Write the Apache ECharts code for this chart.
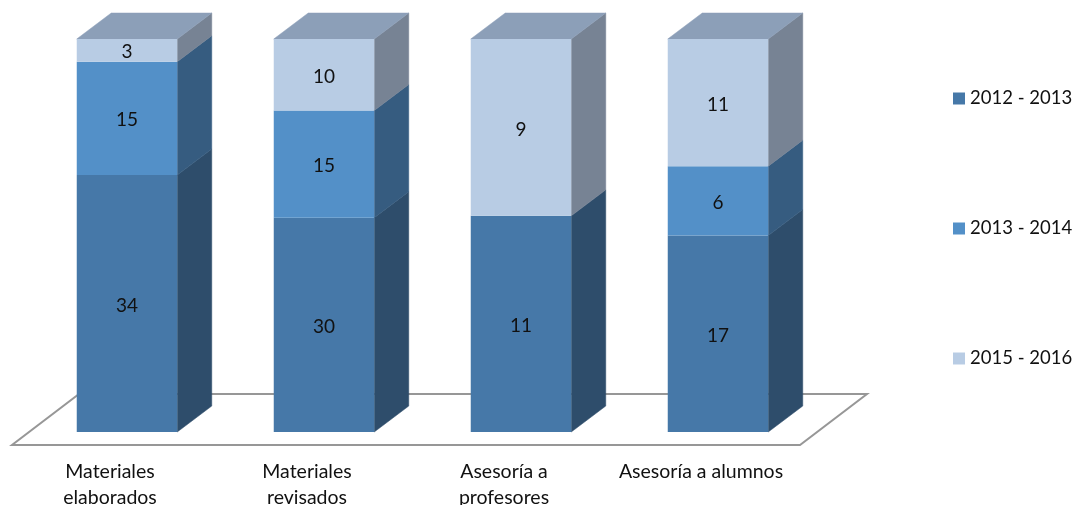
<!DOCTYPE html>
<html><head><meta charset="utf-8">
<style>html,body{margin:0;padding:0;background:#fff}#c{width:1075px;height:505px}</style>
<script src="https://cdn.jsdelivr.net/npm/echarts@6/dist/echarts.min.js"></script>
</head><body><div id="c"></div>
<script>
const categories = ['Materiales\nelaborados','Materiales\nrevisados','Asesoría a\nprofesores','Asesoría a alumnos'];
const seriesNames = ['2012 - 2013','2013 - 2014','2015 - 2016'];
const s2012 = [34,30,11,17];
const s2013 = [15,15,null,6];
const s2015 = [3,10,9,11];
const FONT = 'Lato';
const frontColors = ['#4678a8','#5390c8','#b8cce4'];
const sideColors = ['#2e4d6b','#365c80','#778394'];
const topColor = '#8c9fb8';
const DX = 34.5, DY = -26, BW = 100.5;
const all = [s2012,s2013,s2015];
const totals = categories.map((_,i)=>all.reduce((a,s)=>a+(s[i]||0),0));
function segData(k){
  return categories.map((_,i)=>{
    let start=0; for(let j=0;j<k;j++) start+=(all[j][i]||0);
    const v=all[k][i];
    return [i,start/totals[i]*100,(start+(v||0))/totals[i]*100,v==null?0:v,(start+(v||0))===totals[i]?1:0];
  });
}
function poly(pts,fill){return {type:'polygon',shape:{points:pts},style:{fill:fill,stroke:fill,lineWidth:0.5}};}
function makeSeries(k){
  return {name:seriesNames[k],type:'custom',coordinateSystem:'cartesian2d',clip:false,z:3+k,
    itemStyle:{color:frontColors[k]},
    encode:{x:0,y:[1,2]},
    data:segData(k),
    renderItem:function(params,api){
      const v=api.value(3); if(!v) return {type:'group',children:[]};
      const b=api.coord([api.value(0),api.value(1)]);
      const t=api.coord([api.value(0),api.value(2)]);
      const l=b[0]-BW/2,r=l+BW,yb=b[1],yt=t[1];
      const ch=[
        poly([[r,yb],[r+DX,yb+DY],[r+DX,yt+DY],[r,yt]],sideColors[k]),
      ];
      if(api.value(4)) ch.push(poly([[l,yt],[l+DX,yt+DY],[r+DX,yt+DY],[r,yt]],topColor));
      ch.push({type:'rect',shape:{x:l,y:yt,width:BW,height:yb-yt},style:{fill:frontColors[k]},
        textContent:{type:'text',style:{text:String(v),fill:'#111',fontFamily:FONT,fontSize:19}},
        textConfig:{position:'inside',offset:[0,2]}});
      return {type:'group',children:ch};
    }};
}
const floorSeries={name:'floor',type:'custom',coordinateSystem:'cartesian2d',clip:false,z:1,silent:true,
  encode:{x:0,y:1},data:[[0,0]],
  renderItem:function(params,api){
    const c=params.coordSys; const y0=c.y+c.height;
    return {type:'polygon',shape:{points:[[c.x-16.5,y0+13],[c.x+c.width-16.5,y0+13],[c.x+c.width+50.5,y0-38],[c.x+50.5,y0-38]]},
      style:{fill:'none',stroke:'#979797',lineWidth:2}};
  }};
const chart=echarts.init(document.getElementById('c'),null,{renderer:'canvas'});
chart.setOption({
  animation:false,
  backgroundColor:'#fff',
  grid:{left:28.5,top:39,width:788,height:393,containLabel:false,outerBoundsMode:'none'},
  xAxis:{type:'category',data:categories,axisLine:{show:false},axisTick:{show:false},
    axisLabel:{interval:0,color:'#111',fontFamily:FONT,fontSize:19.5,lineHeight:26,margin:27,verticalAlign:'top',hideOverlap:false,padding:[0,34,0,0]}},
  yAxis:{type:'value',min:0,max:100,show:false},
  legend:{orient:'vertical',left:953,top:89,padding:0,itemWidth:12,itemHeight:12,itemGap:111,icon:'rect',
    data:seriesNames,selectedMode:false,
    textStyle:{color:'#111',fontFamily:FONT,fontSize:18.5,padding:[0,0,0,0]}},
  series:[floorSeries,makeSeries(0),makeSeries(1),makeSeries(2)]
});
</script></body></html>
